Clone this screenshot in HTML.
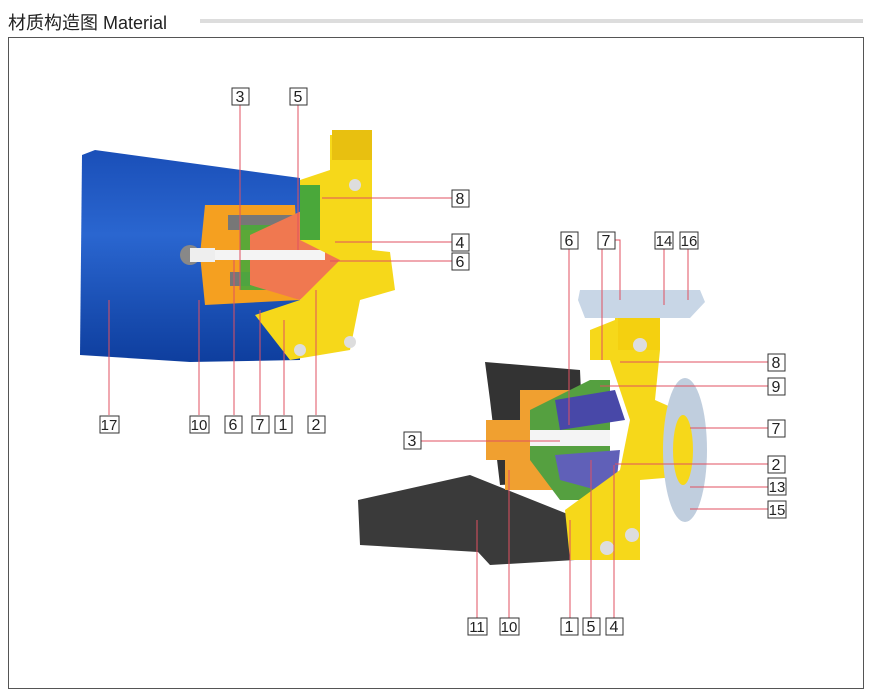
<!DOCTYPE html>
<html><head><meta charset="utf-8"><style>
body{margin:0;background:#fff;width:870px;height:693px;overflow:hidden;font-family:"Liberation Sans","Noto Sans CJK SC",sans-serif}
.t{position:absolute;left:8px;top:9px;font-size:18px;color:#222}
.ln{position:absolute;left:200px;top:19px;width:663px;height:4px;background:#ddd}
.fr{position:absolute;left:8px;top:37px;width:854px;height:650px;border:1px solid #555}
svg{position:absolute;left:0;top:0}
</style></head><body>
<div class="t">材质构造图 Material</div><div class="ln"></div><div class="fr"></div>
<svg width="870" height="693" viewBox="0 0 870 693">
<defs><linearGradient id="bl" x1="0" y1="0" x2="0" y2="1"><stop offset="0" stop-color="#1a4fb8"/><stop offset=".4" stop-color="#2a66d0"/><stop offset="1" stop-color="#0e3e9e"/></linearGradient></defs>
<!-- left pump -->
<polygon points="82,155 95,150 300,178 300,360 190,362 80,355" fill="url(#bl)"/>
<polygon points="205,205 295,205 300,300 205,305 200,255" fill="#f5a020"/>
<rect x="228" y="215" width="70" height="15" fill="#777"/>
<rect x="230" y="272" width="65" height="14" fill="#777"/>
<polygon points="240,225 300,225 300,290 240,290" fill="#4aa83a" opacity=".9"/>
<polygon points="250,235 325,200 345,260 300,300 250,285" fill="#f07850"/>
<rect x="205" y="250" width="120" height="10" fill="#f4f4f4"/>
<polygon points="300,180 330,170 330,135 372,135 372,250 390,252 395,290 360,300 350,350 290,360 255,315 300,300 340,260 300,240" fill="#f6d81a"/>
<polygon points="300,185 320,185 320,240 300,240" fill="#4aa83a"/>
<rect x="332" y="130" width="40" height="30" fill="#e8c010"/>
<circle cx="355" cy="185" r="6" fill="#ddd"/><circle cx="350" cy="342" r="6" fill="#ddd"/><circle cx="300" cy="350" r="6" fill="#ddd"/>
<circle cx="190" cy="255" r="10" fill="#888"/><rect x="190" y="248" width="25" height="14" fill="#eee"/>
<!-- right pump -->
<polygon points="358,500 470,475 570,515 575,560 490,565 478,552 360,545" fill="#3a3a3a"/>
<polygon points="485,362 580,370 585,480 500,485 490,400" fill="#333"/>
<polygon points="486,420 520,420 520,390 585,390 590,490 505,490 505,460 486,460" fill="#f0a030"/>
<polygon points="530,410 590,380 610,380 610,500 560,500 530,460" fill="#55a040"/>
<polygon points="555,400 615,390 625,420 560,430" fill="#4848a8"/>
<polygon points="555,455 620,450 615,495 560,480" fill="#6060b8"/>
<rect x="530" y="430" width="80" height="16" fill="#f4f4f4"/>
<polygon points="590,330 615,320 615,290 660,290 660,350 655,400 700,420 700,475 640,480 640,560 570,560 565,510 620,470 630,420 610,360 590,360" fill="#f6d81a"/>
<rect x="618" y="290" width="42" height="60" fill="#f4d010"/>
<polygon points="580,290 700,290 705,302 690,318 585,318 578,300" fill="#c8d6e6"/>
<ellipse cx="685" cy="450" rx="22" ry="72" fill="#c0cede"/>
<ellipse cx="683" cy="450" rx="10" ry="35" fill="#f6d81a"/>
<circle cx="640" cy="345" r="7" fill="#ddd"/><circle cx="607" cy="548" r="7" fill="#ddd"/><circle cx="632" cy="535" r="7" fill="#ddd"/>
<!-- leaders -->
<g stroke="#e05060" stroke-width="1" fill="none">
<path d="M240,105V290M298,105V250M452,198H322M452,242H335M452,261H330M109,415V300M199,415V300M234,415V260M260,415V310M284,415V320M316,415V290"/>
<path d="M569,249V425M606,240H602V360M615,240H620V300M664,249V305M688,249V300M768,362H620M768,386H600M768,428H690M768,464H615M768,487H690M768,509H690M421,441H560M477,618V520M509,618V470M570,618V520M591,618V460M614,618V465"/>
</g>
<g font-size="16" text-anchor="middle" fill="#222">
<g stroke="#333" fill="#fff" stroke-width="1">
<rect x="232" y="88" width="17" height="17"/><rect x="290" y="88" width="17" height="17"/>
<rect x="452" y="190" width="17" height="17"/><rect x="452" y="234" width="17" height="17"/><rect x="452" y="253" width="17" height="17"/>
<rect x="100" y="416" width="19" height="17"/><rect x="190" y="416" width="19" height="17"/><rect x="225" y="416" width="17" height="17"/><rect x="252" y="416" width="17" height="17"/><rect x="275" y="416" width="17" height="17"/><rect x="308" y="416" width="17" height="17"/>
<rect x="561" y="232" width="17" height="17"/><rect x="598" y="232" width="17" height="17"/><rect x="655" y="232" width="18" height="17"/><rect x="680" y="232" width="18" height="17"/>
<rect x="768" y="354" width="17" height="17"/><rect x="768" y="378" width="17" height="17"/><rect x="768" y="420" width="17" height="17"/><rect x="768" y="456" width="17" height="17"/><rect x="768" y="478" width="18" height="17"/><rect x="768" y="501" width="18" height="17"/>
<rect x="404" y="432" width="17" height="17"/>
<rect x="468" y="618" width="19" height="17"/><rect x="500" y="618" width="19" height="17"/><rect x="561" y="618" width="17" height="17"/><rect x="583" y="618" width="17" height="17"/><rect x="606" y="618" width="17" height="17"/>
</g>
<g textLength="">
<text x="240" y="102">3</text><text x="298" y="102">5</text><text x="460" y="204">8</text><text x="460" y="248">4</text><text x="460" y="267">6</text>
<text x="109" y="430" font-size="15">17</text><text x="199" y="430" font-size="15">10</text><text x="233" y="430">6</text><text x="260" y="430">7</text><text x="283" y="430">1</text><text x="316" y="430">2</text>
<text x="569" y="246">6</text><text x="606" y="246">7</text><text x="664" y="246" font-size="15">14</text><text x="689" y="246" font-size="15">16</text>
<text x="776" y="368">8</text><text x="776" y="392">9</text><text x="776" y="434">7</text><text x="776" y="470">2</text><text x="777" y="492" font-size="15">13</text><text x="777" y="515" font-size="15">15</text>
<text x="412" y="446">3</text>
<text x="477" y="632" font-size="15">11</text><text x="509" y="632" font-size="15">10</text><text x="569" y="632">1</text><text x="591" y="632">5</text><text x="614" y="632">4</text>
</g>
</g>
</svg>
</body></html>
